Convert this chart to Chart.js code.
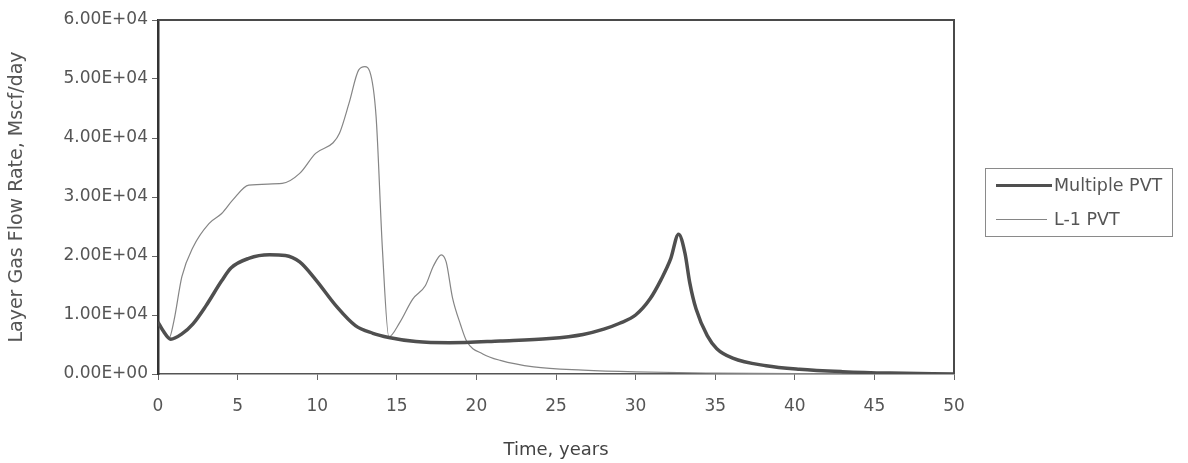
<!DOCTYPE html>
<html>
<head>
<meta charset="utf-8">
<script src="https://cdn.jsdelivr.net/npm/chart.js@4.4.1/dist/chart.umd.min.js"></script>
<style>
  html, body { margin: 0; padding: 0; background: #fff; }
  #wrap { position: relative; width: 1188px; height: 463px; }
  #legend { position: absolute; left: 985px; top: 168px; width: 188px; height: 69px; box-sizing: border-box;
            border: 1px solid #8a8a8a; font-family: "DejaVu Sans", sans-serif; font-size: 17.5px; color: #555; }
  .item { position: absolute; left: 10px; height: 20px; display: flex; align-items: center; }
  .swatch { width: 56px; margin-right: 2px; }
</style>
</head>
<body>
<div id="wrap">
  <canvas id="c" width="1188" height="463"></canvas>
  <div id="legend"></div>
</div>
<script>
// ---- data ----
const seriesNames = ["Multiple PVT", "L-1 PVT"];

const timeMultiple = [0, 0.3, 0.8, 1.5, 2.2, 3.0, 4.0, 4.6, 5.7, 7.0, 8.0, 8.9, 9.9, 11.2, 12.4, 13.5, 14.5, 16.2, 18.3,
  21.5, 24.6, 26.7, 28.0, 29.0, 30.0, 30.9, 31.6, 32.2, 32.7, 33.1, 33.4, 33.8, 34.5, 35.1, 36.1, 38.2, 40.3, 43, 46, 50];
const rateMultiple = [8800, 7400, 5900, 6800, 8500, 11500, 15800, 18000, 19600, 20200, 20100, 19000, 16000, 11500, 8200, 6900, 6200, 5500, 5300,
  5600, 6000, 6700, 7600, 8600, 10000, 12700, 16000, 19500, 23700, 20500, 15500, 11000, 6500, 4300, 2700, 1400, 800, 400, 150, 0];

const timeL1 = [0, 0.3, 0.7, 1.0, 1.5, 2.2, 3.2, 4.0, 4.7, 5.7, 7.8, 8.9, 9.9, 11.0, 11.4, 12.0, 12.6, 13.0, 13.3, 13.7, 14.1, 14.5,
  15.2, 16.0, 16.8, 17.3, 17.8, 18.1, 18.5, 19.0, 19.4, 20.4, 21.5, 23.6, 26.7, 30, 35, 40, 50];
const rateL1 = [8800, 7400, 6100, 9000, 16500, 21500, 25500, 27200, 29500, 32000, 32300, 34000, 37400, 39200, 40800, 45900, 51500, 52100, 51300, 43600, 21000, 6300,
  8800, 12700, 15000, 18300, 20200, 19000, 12900, 8400, 5500, 3400, 2300, 1200, 650, 350, 150, 50, 0];

const xTicksMin = 0, xTicksMax = 50, xStep = 5;
const yTicksMin = 0, yTicksMax = 60000, yStep = 10000;

const xTitle = "Time, years";
const yTitle = "Layer Gas Flow Rate, Mscf/day";

// ---- helpers ----
function toPoints(xs, ys) { return xs.map((x, i) => ({ x: x, y: ys[i] })); }
function sci(v) {
  const s = Number(v).toExponential(2).split('e');
  const exp = parseInt(s[1], 10);
  const sign = exp < 0 ? '-' : '+';
  const e = String(Math.abs(exp)).padStart(2, '0');
  return s[0] + 'E' + sign + e;
}

const FONT = '"DejaVu Sans", sans-serif';
const TXT = '#555';

const frame = {
  id: 'frame',
  afterDatasetsDraw(chart) {
    const { ctx, chartArea: a } = chart;
    ctx.save();
    ctx.strokeStyle = '#4a4a4a';
    ctx.lineWidth = 2;
    ctx.beginPath();
    ctx.moveTo(a.left, a.top);
    ctx.lineTo(a.right, a.top);
    ctx.lineTo(a.right, a.bottom);
    ctx.stroke();
    ctx.restore();
  }
};

const chart = new Chart(document.getElementById('c'), {
  type: 'line',
  data: {
    datasets: [
      { label: seriesNames[0], data: toPoints(timeMultiple, rateMultiple), borderColor: '#4f4f4f', borderWidth: 3.5,
        pointRadius: 0, cubicInterpolationMode: 'monotone', fill: false },
      { label: seriesNames[1], data: toPoints(timeL1, rateL1), borderColor: '#858585', borderWidth: 1.2,
        pointRadius: 0, cubicInterpolationMode: 'monotone', fill: false }
    ]
  },
  options: {
    responsive: false,
    devicePixelRatio: 1,
    animation: false,
    layout: { padding: { top: 20, right: 234, bottom: 0, left: 0 } },
    plugins: { legend: { display: false }, tooltip: { enabled: false } },
    scales: {
      x: {
        type: 'linear', min: xTicksMin, max: xTicksMax,
        ticks: { stepSize: xStep, color: TXT, font: { family: FONT, size: 17 }, padding: 16, maxRotation: 0 },
        grid: { display: true, drawOnChartArea: false, drawTicks: true, tickLength: 6, color: '#666', lineWidth: 1 },
        border: { display: true, color: '#555', width: 1.5 },
        title: { display: true, text: xTitle, color: '#444', font: { family: FONT, size: 18 }, padding: { top: 0, bottom: 2 } },
        afterFit(scale) { scale.height = 89; }
      },
      y: {
        min: yTicksMin, max: yTicksMax,
        ticks: { stepSize: yStep, color: TXT, font: { family: FONT, size: 17 }, padding: 4, callback: (v) => sci(v) },
        grid: { display: true, drawOnChartArea: false, drawTicks: true, tickLength: 6, color: '#666', lineWidth: 1 },
        border: { display: true, color: '#333', width: 2.5 },
        title: { display: true, text: yTitle, color: '#555', font: { family: FONT, size: 19 }, padding: { top: 6, bottom: 0 } },
        afterFit(scale) { scale.width = 158; }
      }
    }
  },
  plugins: [frame]
});

// ---- legend built from the chart's datasets ----
const legend = document.getElementById('legend');
chart.data.datasets.forEach((ds, i) => {
  const item = document.createElement('div');
  item.className = 'item';
  item.style.top = (i === 0 ? 6 : 40) + 'px';
  const sw = document.createElement('div');
  sw.className = 'swatch';
  sw.style.borderTop = ds.borderWidth + 'px solid ' + ds.borderColor;
  sw.style.width = (i === 0 ? 56 : 51) + 'px';
  sw.style.marginRight = (i === 0 ? 2 : 7) + 'px';
  const t = document.createElement('span');
  t.textContent = ds.label;
  item.appendChild(sw);
  item.appendChild(t);
  legend.appendChild(item);
});
</script>
</body>
</html>
